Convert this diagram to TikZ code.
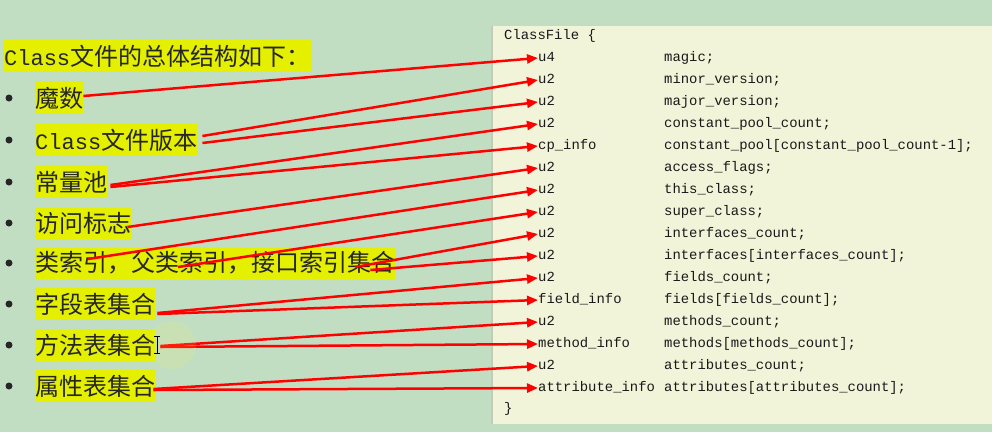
\documentclass[tikz,border=0pt]{standalone}
\usepackage{fontspec}
\setmonofont{Liberation Mono}
\newfontfamily\cjk{Noto Sans CJK SC}
\usetikzlibrary{arrows.meta}
\definecolor{bggreen}{RGB}{193,222,195}
\definecolor{panel}{RGB}{241,244,217}
\definecolor{hilite}{RGB}{228,240,0}
\definecolor{panelline}{RGB}{196,204,184}
\newcommand{\cls}{{\ttfamily\fontsize{22}{26}\selectfont Class}}
\tikzset{
  hl/.style={fill=hilite, anchor=west, inner xsep=0pt, inner ysep=0pt, minimum height=32pt,
    text=black!85, font=\cjk\fontsize{24}{28}\selectfont},
  code/.style={anchor=west, inner sep=0pt, text height=10pt, text depth=3pt,
    text=black!90, font=\ttfamily\fontsize{13.9}{16}\selectfont},
  arr/.style={red, line width=2.5pt, -{Triangle[length=11pt,width=9pt]}}
}
\begin{document}
\begin{tikzpicture}[x=1pt,y=-1pt]
            \useasboundingbox (0,0) rectangle (992,432);
            \fill[bggreen] (0,0) rectangle (992,432);
            \fill[panel] (491,26) rectangle (992,424);
            \draw[panelline, line width=2pt] (492,26) -- (492,424);

            \node[hl, inner xsep=1pt] (title) at (3,56) {\cls 文件的总体结构如下：\hspace{2pt}};
            \foreach \i/\y/\txt in {1/98/魔数, 2/140/\cls 文件版本, 3/182/常量池, 4/223/访问标志,
                5/263/类索引，父类索引，接口索引集合, 6/304/字段表集合, 7/345/方法表集合, 8/386/属性表集合} {
                    \fill[black!85] (9,\y) circle (3.5);
                    \node[hl] (it\i) at (35,\y) {\txt};
                }

            \node[code] (head) at (504,36) {ClassFile \{};
            \foreach \r/\ty/\nm in {1/u4/magic;, 2/u2/minor\_version;, 3/u2/major\_version;,
                4/u2/constant\_pool\_count;, 5/cp\_info/constant\_pool[constant\_pool\_count-1];,
                6/u2/access\_flags;, 7/u2/this\_class;, 8/u2/super\_class;, 9/u2/interfaces\_count;,
                10/u2/interfaces[interfaces\_count];, 11/u2/fields\_count;, 12/field\_info/fields[fields\_count];,
                13/u2/methods\_count;, 14/method\_info/methods[methods\_count];, 15/u2/attributes\_count;,
                16/attribute\_info/attributes[attributes\_count];} {
                    \node[code] (t\r) at (538,{36+22*\r}) {\ty};
                    \node[code] (n\r) at (664,{36+22*\r}) {\nm};
                }
            \node[code] (tail) at (504,409) {\}};

            \draw[arr] ([yshift=2pt]it1.east) -- (t1.west);
            \draw[arr] ([shift={(5pt,4pt)}]it2.east) -- (t2.west);
            \draw[arr] ([shift={(5pt,-3pt)}]it2.east) -- (t3.west);
            \draw[arr] ([shift={(3pt,-3pt)}]it3.east) -- (t4.west);
            \draw[arr] ([shift={(3pt,-5pt)}]it3.east) -- (t5.west);
            \draw[arr] ([shift={(-4pt,-4pt)}]it4.east) -- (t6.west);
            \draw[arr] ([shift={(53pt,4pt)}]it5.west) -- (t7.west);
            \draw[arr] ([shift={(143pt,-4pt)}]it5.west) -- (t8.west);
            \draw[arr] ([shift={(-40pt,-4pt)}]it5.east) -- (t9.west);
            \draw[arr] ([shift={(-25pt,-7pt)}]it5.east) -- (t10.west);
            \draw[arr] ([shift={(2pt,-9pt)}]it6.east) -- (t11.west);
            \draw[arr] ([shift={(2pt,-10pt)}]it6.east) -- (t12.west);
            \draw[arr] ([shift={(5pt,-1pt)}]it7.east) -- (t13.west);
            \draw[arr] ([shift={(5pt,-2pt)}]it7.east) -- (t14.west);
            \draw[arr] ([shift={(-2pt,-3pt)}]it8.east) -- (t15.west);
            \draw[arr] ([shift={(-2pt,-4pt)}]it8.east) -- (t16.west);

            % text cursor
            \fill[yellow!70, opacity=0.12] (172,345) circle (24);
            \draw[black, line width=1pt] (157,336) -- (157,353) (154,336) -- (160,336) (154,353) -- (160,353);
        \end{tikzpicture}
\end{document}
